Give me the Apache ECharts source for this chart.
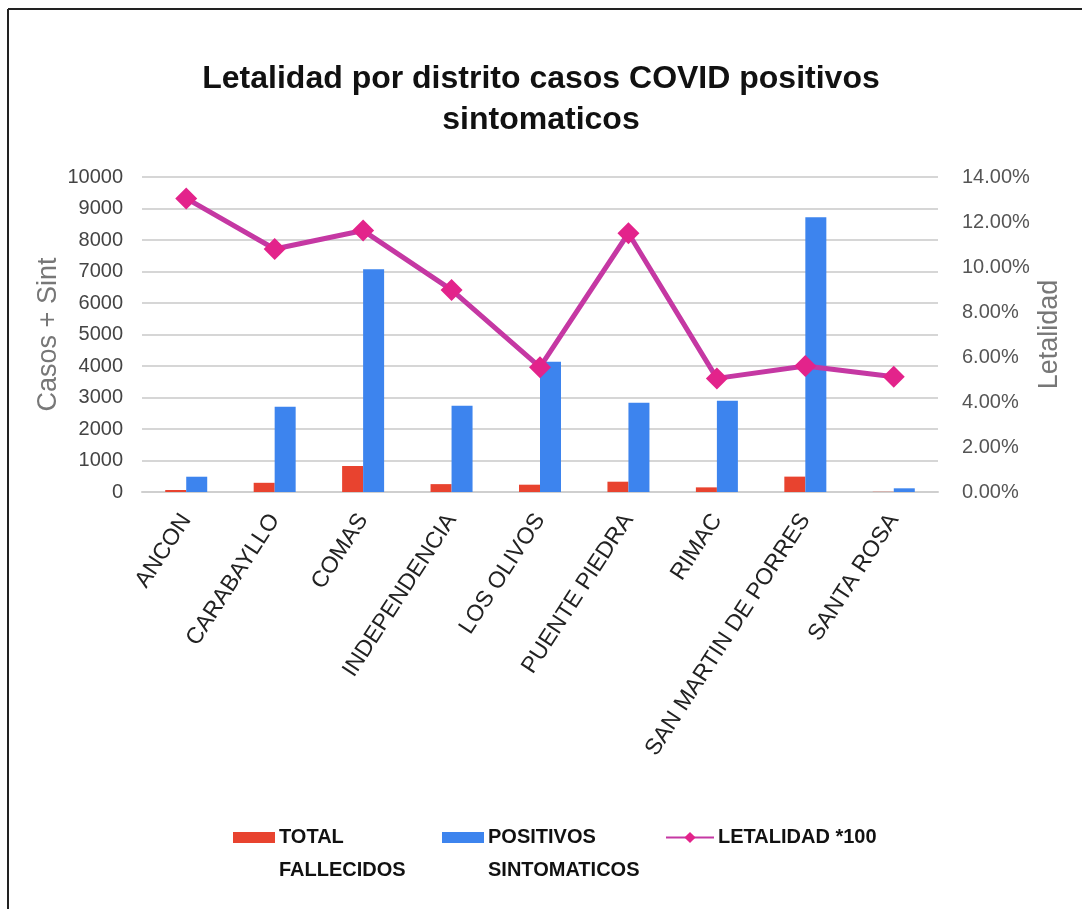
<!DOCTYPE html>
<html>
<head>
<meta charset="utf-8">
<script src="https://cdn.jsdelivr.net/npm/echarts@6/dist/echarts.min.js"></script>
<style>
html,body{margin:0;padding:0;background:#fff;}
#chart{width:1082px;height:909px;}
</style>
</head>
<body>
<div id="chart"></div>
<script>
var categories = ['ANCON','CARABAYLLO','COMAS','INDEPENDENCIA','LOS OLIVOS','PUENTE PIEDRA','RIMAC','SAN MARTIN DE PORRES','SANTA ROSA'];
var totalFallecidos = [63, 292, 825, 250, 232, 327, 147, 488, 6];
var positivosSintomaticos = [485, 2705, 7070, 2740, 4137, 2835, 2900, 8720, 117];
var letalidad = [13.05, 10.8, 11.62, 8.98, 5.55, 11.5, 5.05, 5.6, 5.12];
var leftTicks = {min: 0, max: 10000, interval: 1000};
var rightTicks = {min: 0, max: 14, interval: 2};

var NARROW = "'Liberation Sans Narrow', 'Liberation Sans', Arial, sans-serif";
var SANS = "'Liberation Sans', Arial, sans-serif";
var RED = '#e8432f', BLUE = '#3d84ee', LINE = '#c538a3', MARK = '#e3238b';

var barIcon = 'path://M0,0L0.01,0L0,0.01Z M42,66L41.99,66L42,65.99Z M0,11L42,11L42,22L0,22Z';

function mkLegend(name, left, icon, w, h) {
  return {
    data: [icon ? {name: name, icon: icon} : {name: name}],
    left: left, top: 816, itemWidth: w, itemHeight: h, itemGap: 0,
    selectedMode: false,
    textStyle: {fontFamily: NARROW, fontWeight: 'bold', fontSize: 20, lineHeight: 33, color: '#111', padding: [0,0,0,-1]}
  };
}

var chart = echarts.init(document.getElementById('chart'), null, {renderer: 'canvas'});
chart.setOption({
  backgroundColor: '#fff',
  animation: false,
  title: {
    text: 'Letalidad por distrito casos COVID positivos\nsintomaticos',
    left: 'center', top: 54,
    textStyle: {fontFamily: NARROW, fontWeight: 'bold', fontSize: 32, lineHeight: 41, color: '#111'}
  },
  legend: [
    mkLegend('TOTAL\nFALLECIDOS', 228, barIcon, 42, 66),
    mkLegend('POSITIVOS\nSINTOMATICOS', 437, barIcon, 42, 66),
    mkLegend('LETALIDAD *100', 660, null, 48, 14)
  ],
  graphic: [
    {type: 'line', shape: {x1: 8, y1: 9, x2: 1082, y2: 9}, style: {stroke: '#222', lineWidth: 2}, z: 100},
    {type: 'line', shape: {x1: 8, y1: 9, x2: 8, y2: 909}, style: {stroke: '#222', lineWidth: 2}, z: 100}
  ],
  grid: {left: 142, right: 144, top: 177, bottom: 417},
  xAxis: {
    type: 'category',
    data: categories,
    axisTick: {show: false},
    axisLine: {lineStyle: {color: '#cfcfcf', width: 2}},
    axisLabel: {interval: 0, rotate: 57, fontFamily: SANS, fontSize: 23, color: '#222', margin: 24}
  },
  yAxis: [
    {
      type: 'value', min: leftTicks.min, max: leftTicks.max, interval: leftTicks.interval,
      name: 'Casos + Sint', nameLocation: 'middle', nameGap: 80, nameRotate: 90, nameMoveOverlap: false,
      nameTextStyle: {fontFamily: SANS, fontSize: 27, color: '#777'},
      axisLabel: {fontFamily: NARROW, fontSize: 20, color: '#444', margin: 19,
        formatter: function (v) { return String(v); }},
      splitLine: {lineStyle: {color: '#d6d6d6', width: 2}},
      axisLine: {show: false}, axisTick: {show: false}
    },
    {
      type: 'value', min: rightTicks.min, max: rightTicks.max, interval: rightTicks.interval,
      name: 'Letalidad', nameLocation: 'middle', nameGap: 98, nameRotate: 90, nameMoveOverlap: false,
      nameTextStyle: {fontFamily: SANS, fontSize: 27, color: '#777'},
      axisLabel: {fontFamily: NARROW, fontSize: 20, color: '#555', margin: 24,
        formatter: function (v) { return v.toFixed(2) + '%'; }},
      splitLine: {show: false},
      axisLine: {show: false}, axisTick: {show: false}
    }
  ],
  series: [
    {
      name: 'TOTAL\nFALLECIDOS', type: 'bar', data: totalFallecidos, yAxisIndex: 0,
      barWidth: 21, barGap: '0%', itemStyle: {color: RED}
    },
    {
      name: 'POSITIVOS\nSINTOMATICOS', type: 'bar', data: positivosSintomaticos, yAxisIndex: 0,
      barWidth: 21, barGap: '0%', itemStyle: {color: BLUE}
    },
    {
      name: 'LETALIDAD *100', type: 'line', data: letalidad, yAxisIndex: 1,
      symbol: 'diamond', symbolSize: 22, lineStyle: {color: LINE, width: 5},
      itemStyle: {color: MARK}, z: 5
    }
  ]
});
</script>
</body>
</html>
